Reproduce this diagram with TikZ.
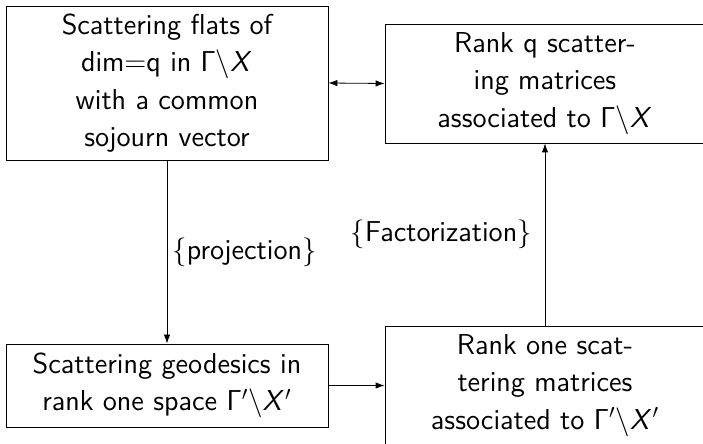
\documentclass[tikz,border=0pt]{standalone}
\usepackage{amsmath}
\usetikzlibrary{positioning,arrows.meta}
\DeclareMathAlphabet{\mathssup}{OT1}{cmss}{m}{n}
\DeclareMathAlphabet{\mathssit}{OT1}{cmss}{m}{sl}
\newcommand{\quotsp}[1]{\mathssup{\Gamma}#1\backslash\mathssit{X}#1}

\begin{document}
\begin{tikzpicture}[x=0.5pt, y=-0.5pt,
    box/.style={draw, rectangle, align=center, inner sep=0pt,
        font=\fontsize{14.4}{18.75}\selectfont\sffamily},
    lbl/.style={inner sep=2.5pt, font=\fontsize{14.4}{18.75}\selectfont\sffamily},
    conn/.style={-{Latex[length=4.5pt,width=3.2pt]}},
    dconn/.style={{Latex[length=4.5pt,width=3.2pt]}-{Latex[length=4.5pt,width=3.2pt]}}]
    \useasboundingbox (0,0) rectangle (703,444);

    % Upper row
    \node[box, minimum width=161pt, minimum height=77pt] (flats) at (167, 83)
        {Scattering flats of\\dim$=$q in $\quotsp{}$\\with a common\\sojourn vector};
    \node[box, minimum width=160pt, minimum height=59.5pt] (rankq) at (545, 83.5)
        {Rank q scatter-\\ing matrices\\associated to $\quotsp{}$};

    % Lower row
    \node[box, minimum width=161pt, minimum height=41.5pt] (geod) at (167, 385.5)
        {Scattering geodesics in\\rank one space $\quotsp{'}$};
    \node[box, minimum width=160pt, minimum height=59.5pt] (rankone) at (545, 385.5)
        {Rank one scat-\\tering matrices\\associated to $\quotsp{'}$};

    % Arrows
    \draw[dconn] (flats.east) -- (rankq.west);
    \draw[conn] (flats.south) -- node[lbl, right] {$\{$projection$\}$} (geod.north);
    \draw[conn] (geod.east) -- (rankone.west);
    \draw[conn] (rankone.north) -- node[lbl, left, xshift=-4pt] {$\{$Factorization$\}$} (rankq.south);
\end{tikzpicture}
\end{document}
